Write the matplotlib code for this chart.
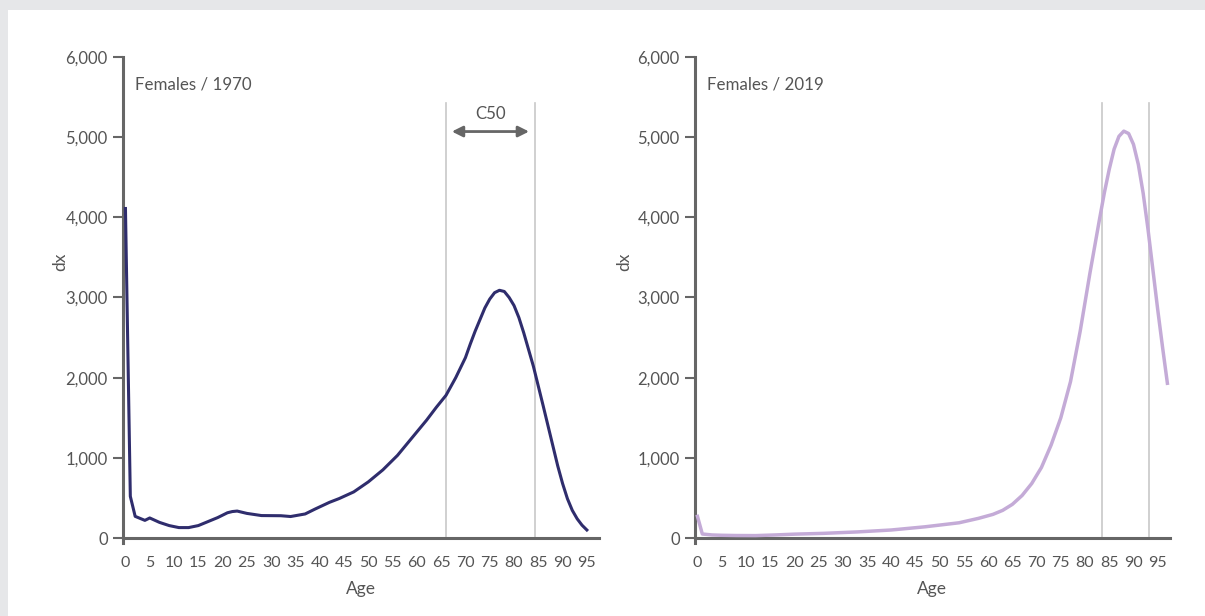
import matplotlib
matplotlib.use('Agg')
import matplotlib.pyplot as plt
from matplotlib.patches import Rectangle

# Females / 1970 deaths by age (dx)
ages_1970 = [0, 1, 2, 4, 5, 7, 9, 11, 13, 15, 17, 19, 21, 22, 23, 25, 28, 32, 34,
             37, 39, 42, 44, 47, 50, 53, 56, 59, 62, 64, 66, 68, 70, 71, 72, 74, 75,
             76, 77, 78, 79, 80, 81, 82, 84, 86, 88, 89, 90, 91, 92, 93, 94, 95]
dx_1970 = [4110, 520, 270, 220, 250, 195, 155, 130, 130, 155, 205, 255, 315, 330, 336,
           307, 280, 278, 268, 300, 360, 445, 492, 575, 700, 850, 1030, 1250, 1470,
           1630, 1780, 2000, 2250, 2420, 2580, 2870, 2980, 3060, 3090, 3075, 3000,
           2900, 2750, 2560, 2140, 1650, 1150, 900, 680, 490, 345, 240, 160, 100]

# Females / 2019
ages_2019 = [0, 1, 3, 5, 8, 12, 16, 20, 26, 33, 40, 47, 54, 58, 61, 63, 65, 67, 69,
             71, 73, 75, 77, 79, 81, 83, 84, 85, 86, 87, 88, 89, 90, 91, 92, 93, 94,
             95, 96, 97]
dx_2019 = [270, 50, 38, 34, 31, 30, 38, 48, 58, 76, 100, 140, 190, 245, 295, 345, 420,
           530, 680, 880, 1160, 1500, 1950, 2580, 3300, 3980, 4310, 4600, 4850, 5010,
           5075, 5045, 4910, 4660, 4300, 3850, 3350, 2850, 2380, 1930]

# C50 interval bounds
c50_1970 = [66.0, 84.3]
c50_2019 = [83.4, 93.2]
c50_top = 5420

x_ticks = list(range(0, 100, 5))
y_ticks = [0, 1000, 2000, 3000, 4000, 5000, 6000]

colors = {
    'bg': '#e6e7e9',
    'panel': '#ffffff',
    'line1970': '#2f2d6d',
    'line2019': '#c4abd7',
    'vline': '#c8c8c8',
    'spine': '#666666',
    'text': '#555555',
    'arrow': '#666666',
}

plt.rcParams['font.family'] = ['Lato', 'DejaVu Sans']

fig = plt.figure(figsize=(12.05, 6.16), dpi=100, facecolor=colors['bg'])
fig.patches.append(Rectangle((8 / 1205, 0), 1, 1 - 10 / 616, transform=fig.transFigure,
                             facecolor=colors['panel'], edgecolor='none', zorder=-5))

ax1 = fig.add_axes([0.1021, 0.1188, 0.395, 0.7887])
ax2 = fig.add_axes([0.5768, 0.1188, 0.394, 0.7887])


def style_axis(ax, title):
    ax.set_facecolor('none')
    ax.set_xlim(-0.5, 97.5)
    ax.set_ylim(-60, 6000)
    for side in ['top', 'right']:
        ax.spines[side].set_visible(False)
    ax.spines['bottom'].set_position(('data', 0))
    for side in ['left', 'bottom']:
        ax.spines[side].set_color(colors['spine'])
        ax.spines[side].set_linewidth(2.2)
    ax.set_xticks(x_ticks)
    ax.set_yticks(y_ticks)
    ax.set_yticklabels([f'{v:,}' for v in y_ticks])
    ax.tick_params(axis='x', length=0, pad=13, labelsize=11.5, labelcolor=colors['text'])
    ax.tick_params(axis='y', length=7, width=1.5, color=colors['spine'], pad=4,
                   labelsize=12, labelcolor=colors['text'])
    ax.set_xlabel('Age', fontsize=12.5, color=colors['text'], labelpad=8)
    ax.set_ylabel('dx', fontsize=12.5, color=colors['text'])
    ax.text(0.025, 0.944, title, transform=ax.transAxes, fontsize=12.2,
            color=colors['text'], ha='left', va='center')


style_axis(ax1, 'Females / 1970')
style_axis(ax2, 'Females / 2019')
ax1.yaxis.set_label_coords(-0.115, 0.578)
ax2.yaxis.set_label_coords(-0.133, 0.578)

for xv in c50_1970:
    ax1.plot([xv, xv], [0, c50_top], color=colors['vline'], linewidth=1.2, zorder=1)
for xv in c50_2019:
    ax2.plot([xv, xv], [0, c50_top], color=colors['vline'], linewidth=1.2, zorder=1)

ax1.plot(ages_1970, dx_1970, color=colors['line1970'], linewidth=2.2, zorder=3,
         solid_joinstyle='round')
ax2.plot(ages_2019, dx_2019, color=colors['line2019'], linewidth=2.5, zorder=3,
         solid_joinstyle='round')

# C50 arrow
ax1.annotate('', xy=(c50_1970[0] + 1.2, 5070), xytext=(c50_1970[1] - 1.2, 5070),
             arrowprops=dict(arrowstyle='<|-|>', color=colors['arrow'], lw=2,
                             mutation_scale=16, shrinkA=0, shrinkB=0))
ax1.text(sum(c50_1970) / 2, 5290, 'C50', fontsize=12.2, color=colors['text'],
         ha='center', va='center')

plt.savefig('out.png', dpi=100, facecolor=colors['bg'])
